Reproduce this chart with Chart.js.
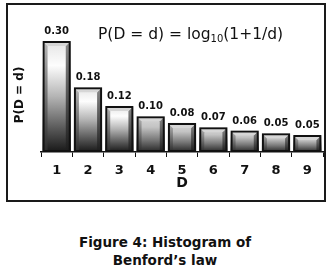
<!DOCTYPE html>
<html>
<head>
<meta charset="utf-8">
<script src="https://cdn.jsdelivr.net/npm/chart.js@4"></script>
<style>
  html, body { margin:0; padding:0; background:#fff; }
  body { width:328px; height:274px; position:relative; overflow:hidden; }
  #c { position:absolute; left:0; top:0; }
  #frame { position:absolute; left:6px; top:3px; width:320px; height:199px; box-sizing:border-box; border:2px solid #1a1a1a; pointer-events:none; }
  #caption { position:absolute; left:0; top:233px; width:330px; text-align:center; font-family:"DejaVu Sans", sans-serif; font-weight:bold; font-size:13.5px; line-height:18px; color:#111; }
</style>
</head>
<body>
<canvas id="c" width="328" height="205"></canvas>
<div id="frame"></div>
<div id="caption">Figure 4: Histogram of<br>Benford’s law</div>
<script>
const categories = ['1','2','3','4','5','6','7','8','9'];
const probabilities = [0.301, 0.176, 0.125, 0.097, 0.079, 0.067, 0.058, 0.051, 0.046];
const valueLabels = ['0.30','0.18','0.12','0.10','0.08','0.07','0.06','0.05','0.05'];
const xTitle = 'D';
const yTitle = 'P(D = d)';
const formulaMain = 'P(D = d) = log';
const formulaSub = '10';
const formulaTail = '(1+1/d)';

const FONT = '"DejaVu Sans", sans-serif';

const bevelPlugin = {
  id: 'bevel',
  beforeDatasetsDraw(chart) {
    const ctx = chart.ctx;
    const meta = chart.getDatasetMeta(0);
    ctx.save();
    meta.data.forEach(bar => {
      const p = bar.getProps(['x','y','base','width'], true);
      const l = p.x - p.width/2, r = p.x + p.width/2, t = p.y, b = p.base;
      const h = b - t, s = 5;
      const g = ctx.createLinearGradient(0, t, 0, b);
      if (h > 40) {
        g.addColorStop(0, '#e4e4e4');
        g.addColorStop(0.22, '#fdfdfd');
        g.addColorStop(0.5, '#b4b4b4');
        g.addColorStop(0.8, '#555555');
        g.addColorStop(1, '#181818');
      } else {
        g.addColorStop(0, '#d8d8d8');
        g.addColorStop(0.3, '#c4c4c4');
        g.addColorStop(0.65, '#7a7a7a');
        g.addColorStop(1, '#262626');
      }
      ctx.fillStyle = g;
      ctx.fillRect(l, t, r - l, b - t);
      const gl = ctx.createLinearGradient(0, t, 0, b);
      gl.addColorStop(0, '#b8b8b8'); gl.addColorStop(1, '#2a2a2a');
      ctx.fillStyle = gl;
      ctx.beginPath(); ctx.moveTo(l, t); ctx.lineTo(l + s, t + s); ctx.lineTo(l + s, b); ctx.lineTo(l, b); ctx.closePath(); ctx.fill();
      const gr = ctx.createLinearGradient(0, t, 0, b);
      gr.addColorStop(0, '#8a8a8a'); gr.addColorStop(1, '#1c1c1c');
      ctx.fillStyle = gr;
      ctx.beginPath(); ctx.moveTo(r, t); ctx.lineTo(r - s, t + s); ctx.lineTo(r - s, b); ctx.lineTo(r, b); ctx.closePath(); ctx.fill();
      ctx.fillStyle = '#d6d6d6';
      ctx.beginPath(); ctx.moveTo(l, t); ctx.lineTo(r, t); ctx.lineTo(r - s, t + s); ctx.lineTo(l + s, t + s); ctx.closePath(); ctx.fill();
    });
    ctx.restore();
  },
  afterDatasetsDraw(chart) {
    const ctx = chart.ctx;
    const meta = chart.getDatasetMeta(0);
    const area = chart.chartArea;
    ctx.save();
    ctx.fillStyle = '#111';
    ctx.font = 'bold 10px ' + FONT;
    ctx.textAlign = 'center';
    ctx.textBaseline = 'alphabetic';
    meta.data.forEach((bar, i) => {
      ctx.fillText(valueLabels[i], bar.x, bar.y - 7);
    });
    // formula
    ctx.textAlign = 'left';
    ctx.font = '15.5px ' + FONT;
    let x = 98;
    const yb = 38.5;
    ctx.fillText(formulaMain, x, yb);
    x += ctx.measureText(formulaMain).width;
    ctx.font = '10px ' + FONT;
    ctx.fillText(formulaSub, x, yb + 3);
    x += ctx.measureText(formulaSub).width;
    ctx.font = '15.5px ' + FONT;
    ctx.fillText(formulaTail, x, yb);
    // x title
    ctx.textAlign = 'center';
    ctx.textBaseline = 'middle';
    ctx.font = 'bold 14px ' + FONT;
    ctx.fillText(xTitle, (area.left + area.right) / 2, area.bottom + 31);
    // y title
    ctx.save();
    ctx.translate(20, 95);
    ctx.rotate(-Math.PI/2);
    ctx.font = 'bold 12px ' + FONT;
    ctx.fillText(yTitle, 0, 0);
    ctx.restore();
    ctx.restore();
  }
};

new Chart(document.getElementById('c'), {
  type: 'bar',
  data: {
    labels: categories,
    datasets: [{
      data: probabilities,
      backgroundColor: 'rgba(0,0,0,0)',
      borderColor: '#111',
      borderWidth: 2,
      borderSkipped: false,
      barPercentage: 0.9,
      categoryPercentage: 1.0
    }]
  },
  options: {
    responsive: false,
    animation: false,
    events: [],
    layout: { padding: { left: 41, right: 5, top: 23, bottom: 21 } },
    plugins: { legend: { display: false }, tooltip: { enabled: false }, title: { display: false } },
    scales: {
      x: {
        offset: true,
        grid: { display: true, drawOnChartArea: false, drawTicks: true, tickLength: 5, color: '#111', lineWidth: 1, offset: true },
        border: { display: true, color: '#111', width: 1.5 },
        ticks: { color: '#111', padding: 7, font: { family: FONT, weight: 'bold', size: 13, lineHeight: 1 } },
        title: { display: false }
      },
      y: {
        display: false,
        min: 0,
        max: 0.35
      }
    }
  },
  plugins: [bevelPlugin]
});
</script>
</body>
</html>
